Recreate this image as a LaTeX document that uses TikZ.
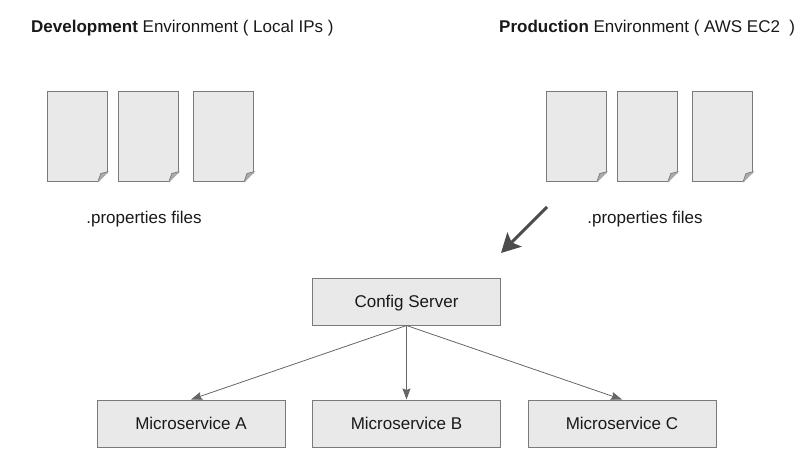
\documentclass[tikz,border=0pt]{standalone}
\usepackage{fontspec}
\setmainfont{Liberation Sans}
\usetikzlibrary{positioning}
\usetikzlibrary{arrows.meta}
\definecolor{boxfill}{HTML}{E9E9E9}
\definecolor{boxline}{HTML}{7A7A7A}
\definecolor{foldfill}{HTML}{ABABAB}
\tikzset{x=1pt,y=-1pt,
         label text/.style={inner sep=0pt,font=\fontsize{17}{20}\selectfont,text=black!90},
         service/.style={draw=boxline,fill=boxfill,line width=1pt,minimum width=188pt,minimum height=47pt,inner sep=0pt,text height=12pt,text depth=0pt,font=\fontsize{17}{20}\selectfont,text=black!90},
         doc/.style={draw=boxline,fill=boxfill,line width=1pt,minimum width=60.5pt,minimum height=90.5pt,inner sep=0pt},
         fold/.style={fill=foldfill},
         feed/.style={draw=black!60,line width=.8pt,-{Stealth[length=11pt,width=8pt,inset=1.5pt]}},
         }
% page with a folded corner, drawn over a doc node
\newcommand{\foldcorner}[1]{
  \fill[white] (#1.south east) ++(-10.5,1) -- ++(11.5,0) -- ++(0,-11.5) -- cycle;
  \fill[fold] (#1.south east) ++(-10.5,0) -- ++(3,-8.5) -- ++(7.5,-2) -- cycle;
  \draw[boxline,line width=.7pt] (#1.south east) ++(-10.5,0) -- ++(3,-8.5) -- ++(7.5,-2);
  \draw[black!35,line width=.7pt] (#1.south east) ++(-10.5,0) -- ++(10.5,-10.5);
}
\begin{document}
\begin{tikzpicture}
\useasboundingbox (0,0) rectangle (812,461);

\node[label text,anchor=base west] (devtitle) at (31,32) {\textbf{Development} Environment ( Local IPs )};
\node[label text,anchor=base west] (prodtitle) at (499,32) {\textbf{Production} Environment ( AWS EC2\ \ )};

% development files
\foreach \name/\xpos in {deva/77.5,devb/148.5,devc/223.7}{
  \node[doc] (\name) at (\xpos,136.3) {};
  \foldcorner{\name}
}
\node[label text] (devfiles) at (144,219) {.properties files};

% production files
\foreach \name/\xpos in {proda/576.5,prodb/647.5,prodc/722.7}{
  \node[doc] (\name) at (\xpos,136.3) {};
  \foldcorner{\name}
}
\node[label text] (prodfiles) at (645,219) {.properties files};

\node[service] (config) at (406.5,301.5) {Config Server};
\node[service] (msa) at (191,423.5) {Microservice A};
\node[service] (msb) at (406.5,423.5) {Microservice B};
\node[service] (msc) at (622,423.5) {Microservice C};

\draw[feed] (config.south) -- (msa.north);
\draw[feed] (config.south) -- (msb.north);
\draw[feed] (config.south) -- (msc.north);

\coordinate (pushstart) at (547,207);
\coordinate (pushend) at (501,253);
\draw[draw=black!70,line width=3pt,-{Stealth[length=19pt,width=20pt,inset=4pt]}] (pushstart) -- (pushend);
\end{tikzpicture}
\end{document}
